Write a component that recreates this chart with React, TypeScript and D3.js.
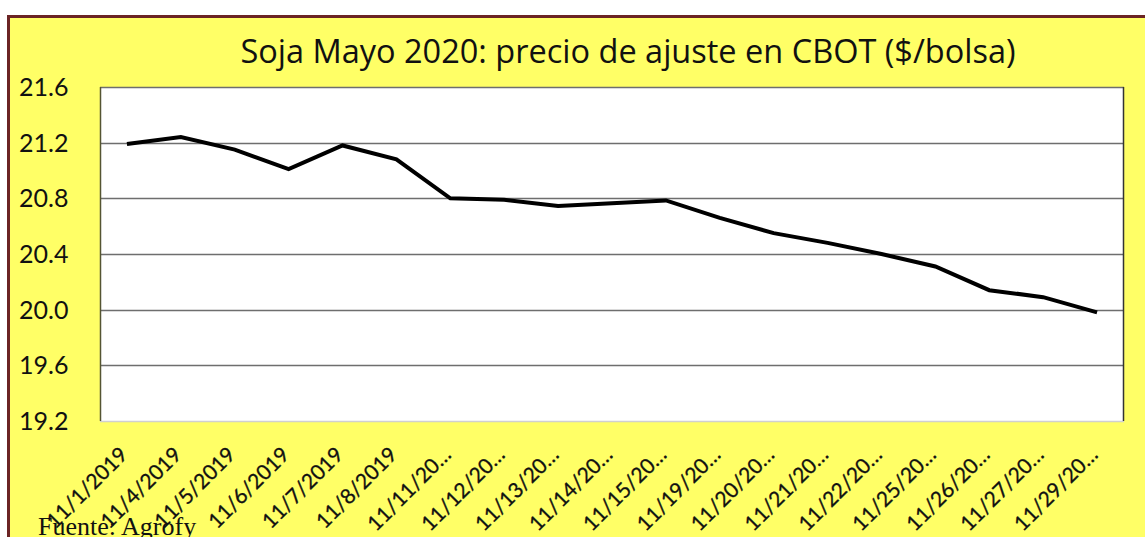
import * as d3 from "d3";
import { useRef, useEffect } from "react";

// Soja Mayo 2020 - CBOT settlement price ($/bolsa)
const dates = [
  "11/1/2019", "11/4/2019", "11/5/2019", "11/6/2019", "11/7/2019", "11/8/2019",
  "11/11/2019", "11/12/2019", "11/13/2019", "11/14/2019", "11/15/2019",
  "11/19/2019", "11/20/2019", "11/21/2019", "11/22/2019", "11/25/2019",
  "11/26/2019", "11/27/2019", "11/29/2019",
];
const prices = [
  21.19, 21.24, 21.15, 21.01, 21.18, 21.08,
  20.80, 20.79, 20.745, 20.765, 20.785,
  20.66, 20.55, 20.48, 20.40, 20.31,
  20.14, 20.09, 19.98,
];
const yTicks = [19.2, 19.6, 20.0, 20.4, 20.8, 21.2, 21.6];

const title = "Soja Mayo 2020: precio de ajuste en CBOT ($/bolsa)";
const source = "Fuente: Agrofy";

// Excel-style truncation of long category labels
function shortLabel(s: string) {
  return s.length > 9 ? s.slice(0, 8) + "…" : s;
}

export default function App() {
  const ref = useRef<SVGSVGElement>(null);

  const width = 1145;
  const height = 537;
  const plotLeft = 100;
  const plotRight = 1124;
  const plotTop = 87;
  const plotBottom = 421;
  const font = "Lato, 'Open Sans', sans-serif";

  useEffect(() => {
    const svg = d3.select(ref.current);
    svg.selectAll("*").remove();

    const x = d3.scaleBand()
      .domain(dates)
      .range([plotLeft, plotRight]);

    const y = d3.scaleLinear()
      .domain([19.2, 21.6])
      .range([plotBottom, plotTop]);

    // page + chart area
    svg.append("rect")
      .attr("width", width).attr("height", height)
      .attr("fill", "#ffffff");
    svg.append("rect")
      .attr("x", 8.5).attr("y", 16.5)
      .attr("width", width + 20).attr("height", height + 20)
      .attr("fill", "#ffff66")
      .attr("stroke", "#6b2424")
      .attr("stroke-width", 3);

    // title
    svg.append("text")
      .attr("x", 628)
      .attr("y", 63)
      .attr("text-anchor", "middle")
      .attr("font-family", "'Open Sans', sans-serif")
      .attr("font-size", 32.5)
      .attr("fill", "#111")
      .text(title);

    // plot area
    svg.append("rect")
      .attr("x", plotLeft).attr("y", plotTop)
      .attr("width", plotRight - plotLeft).attr("height", plotBottom - plotTop)
      .attr("fill", "#ffffff");

    // gridlines
    svg.append("g")
      .selectAll("line")
      .data(yTicks)
      .join("line")
        .attr("x1", plotLeft).attr("x2", plotRight)
        .attr("y1", (d) => Math.round(y(d)) + 0.5)
        .attr("y2", (d) => Math.round(y(d)) + 0.5)
        .attr("stroke", (d) => (d === 19.2 ? "#d0d0d0" : "#6e6e6e"))
        .attr("stroke-width", 1.5);

    // plot borders (left/right)
    svg.append("line")
      .attr("x1", plotLeft + 0.5).attr("x2", plotLeft + 0.5)
      .attr("y1", plotTop).attr("y2", plotBottom)
      .attr("stroke", "#555533").attr("stroke-width", 1.5);
    svg.append("line")
      .attr("x1", plotRight - 0.5).attr("x2", plotRight - 0.5)
      .attr("y1", plotTop).attr("y2", plotBottom)
      .attr("stroke", "#333333").attr("stroke-width", 1.5);

    // y tick labels
    svg.append("g")
      .selectAll("text")
      .data(yTicks)
      .join("text")
        .attr("x", 19)
        .attr("y", (d) => y(d))
        .attr("dy", "0.36em")
        .attr("font-family", font)
        .attr("font-size", 25)
        .attr("fill", "#111")
        .text((d) => d.toFixed(1));

    // x tick labels, rotated
    svg.append("g")
      .selectAll("text")
      .data(dates)
      .join("text")
        .attr("transform", (d) => {
          const cx = x(d)! + x.bandwidth() / 2 + 2;
          return `translate(${cx},${plotBottom + 35}) rotate(-45)`;
        })
        .attr("text-anchor", "end")
        .attr("font-family", font)
        .attr("font-size", 21)
        .attr("fill", "#111")
        .attr("stroke", "#111")
        .attr("stroke-width", 0.3)
        .text((d) => shortLabel(d));

    // price line
    const line = d3.line<number>()
      .x((_, i) => x(dates[i])! + x.bandwidth() / 2)
      .y((d) => y(d));

    svg.append("path")
      .datum(prices)
      .attr("fill", "none")
      .attr("stroke", "#000")
      .attr("stroke-width", 4)
      .attr("stroke-linejoin", "miter")
      .attr("d", line);

    // source note
    svg.append("text")
      .attr("x", 38)
      .attr("y", 535)
      .attr("font-family", "'Liberation Serif', 'DejaVu Serif', serif")
      .attr("font-size", 26)
      .attr("fill", "#111")
      .text(source);
  }, []);

  return (
    <svg
      ref={ref}
      width={width}
      height={height}
      style={{ position: "fixed", left: 0, top: 0, display: "block" }}
    />
  );
}
